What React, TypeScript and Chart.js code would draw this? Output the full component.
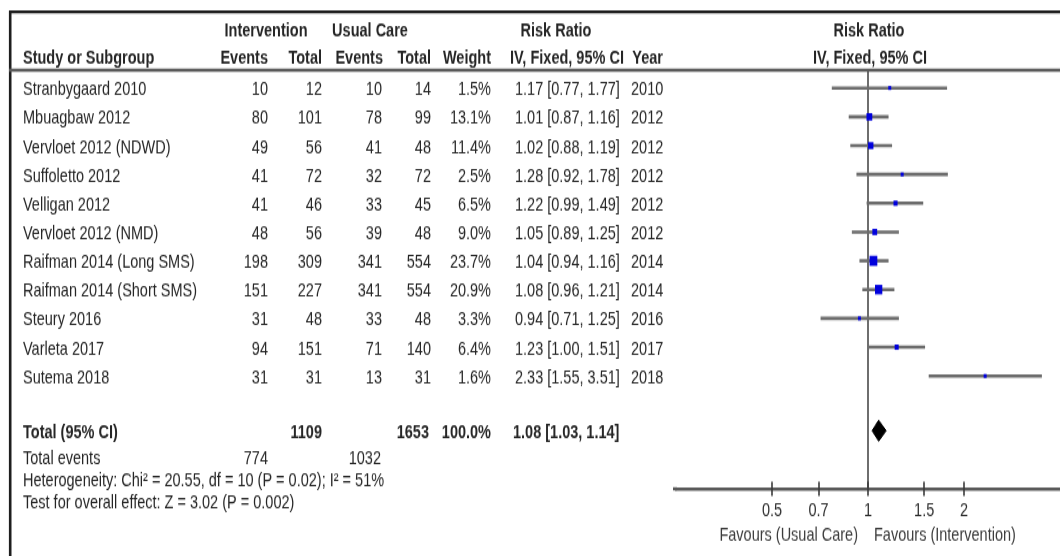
import React, { useEffect, useRef } from "react";
import { Chart, registerables } from "chart.js";

Chart.register(...registerables);

// ---------- data ----------
const studies = [
  "Stranbygaard 2010",
  "Mbuagbaw 2012",
  "Vervloet 2012 (NDWD)",
  "Suffoletto 2012",
  "Velligan 2012",
  "Vervloet 2012 (NMD)",
  "Raifman 2014 (Long SMS)",
  "Raifman 2014 (Short SMS)",
  "Steury 2016",
  "Varleta 2017",
  "Sutema 2018",
];
const intEvents = [10, 80, 49, 41, 41, 48, 198, 151, 31, 94, 31];
const intTotal = [12, 101, 56, 72, 46, 56, 309, 227, 48, 151, 31];
const ucEvents = [10, 78, 41, 32, 33, 39, 341, 341, 33, 71, 13];
const ucTotal = [14, 99, 48, 72, 45, 48, 554, 554, 48, 140, 31];
const weights = [1.5, 13.1, 11.4, 2.5, 6.5, 9.0, 23.7, 20.9, 3.3, 6.4, 1.6];
const riskRatio = [1.17, 1.01, 1.02, 1.28, 1.22, 1.05, 1.04, 1.08, 0.94, 1.23, 2.33];
const ciLow = [0.77, 0.87, 0.88, 0.92, 0.99, 0.89, 0.94, 0.96, 0.71, 1.0, 1.55];
const ciHigh = [1.77, 1.16, 1.19, 1.78, 1.49, 1.25, 1.16, 1.21, 1.25, 1.51, 3.51];
const years = [2010, 2012, 2012, 2012, 2012, 2012, 2014, 2014, 2016, 2017, 2018];

const totalIntN = 1109;
const totalUcN = 1653;
const totalWeight = 100.0;
const totalRR = 1.08;
const totalLow = 1.03;
const totalHigh = 1.14;
const totalIntEvents = 774;
const totalUcEvents = 1032;
const heterogeneityText = "Heterogeneity: Chi\u00B2 = 20.55, df = 10 (P = 0.02); I\u00B2 = 51%";
const overallEffectText = "Test for overall effect: Z = 3.02 (P = 0.002)";

const xTickValues = [0.5, 0.7, 1, 1.5, 2];
const favoursLeft = "Favours (Usual Care)";
const favoursRight = "Favours (Intervention)";

// ---------- layout constants ----------
const STRETCH = 1.3; // vertical stretch of the whole picture
const CW = 1060;
const CH = 428;
const ROW0 = 67.7; // pixel of row 0
const ROWH = 22.15; // pixels per row
const TOP = 54;
const BOTTOM = 376;
const TOTAL_SLOT = 11.9;
const TEXT_DY = 1.5;
const FONT = '"Liberation Sans", Arial, Helvetica, sans-serif';
const FS = 14.5;
const TEXT_COLOR = "#262626";

const fmt2 = (v: number) => v.toFixed(2);
const ciText = (r: number, l: number, h: number) => `${fmt2(r)} [${fmt2(l)}, ${fmt2(h)}]`;

const tablePlugin = {
  id: "forestTable",
  afterDraw(chart: any) {
    const ctx: CanvasRenderingContext2D = chart.ctx;
    const xs = chart.scales.x;
    const ys = chart.scales.y;
    const area = chart.chartArea;
    const rowY = (s: number) => ys.getPixelForValue(s) + TEXT_DY;

    const text = (
      s: string,
      px: number,
      py: number,
      align: CanvasTextAlign,
      bold = false,
      color = TEXT_COLOR
    ) => {
      ctx.font = `${bold ? "bold " : ""}${FS}px ${FONT}`;
      ctx.textAlign = align;
      ctx.textBaseline = "middle";
      ctx.fillStyle = color;
      ctx.fillText(s, px, py);
    };

    ctx.save();
    // frame
    ctx.strokeStyle = "#1e1e1e";
    ctx.lineWidth = 2.3;
    ctx.beginPath();
    ctx.moveTo(9, 9.2);
    ctx.lineTo(CW, 9.2);
    ctx.stroke();
    ctx.lineWidth = 2.6;
    ctx.beginPath();
    ctx.moveTo(10.2, 8.2);
    ctx.lineTo(10.2, CH);
    ctx.stroke();
    // header separator
    ctx.strokeStyle = "#5a5a5a";
    ctx.lineWidth = 2.4;
    ctx.beginPath();
    ctx.moveTo(9, area.top);
    ctx.lineTo(CW, area.top);
    ctx.stroke();

    // axis line: extend slightly beyond the plotting range on the left
    ctx.strokeStyle = "#5a5a5a";
    ctx.lineWidth = 2.4;
    ctx.beginPath();
    ctx.moveTo(673, area.bottom);
    ctx.lineTo(area.left + 1, area.bottom);
    ctx.stroke();

    // tick marks crossing the axis
    ctx.strokeStyle = "#3a3a3a";
    ctx.lineWidth = 1.6;
    const axisY = area.bottom;
    xTickValues.forEach((v) => {
      const px = Math.round(xs.getPixelForValue(v));
      ctx.beginPath();
      ctx.moveTo(px, axisY - 5.4);
      ctx.lineTo(px, axisY + 5.4);
      ctx.stroke();
    });

    // headers
    const h1 = rowY(-2.05);
    const h2 = rowY(-1.11);
    text("Intervention", 266, h1, "center", true);
    text("Usual Care", 370, h1, "center", true);
    text("Risk Ratio", 556, h1, "center", true);
    text("Risk Ratio", 869, h1, "center", true);
    text("Study or Subgroup", 23, h2, "left", true);
    text("Events", 268, h2, "right", true);
    text("Total", 322, h2, "right", true);
    text("Events", 383, h2, "right", true);
    text("Total", 431, h2, "right", true);
    text("Weight", 491, h2, "right", true);
    text("IV, Fixed, 95% CI", 510, h2, "left", true);
    text("Year", 663, h2, "right", true);
    text("IV, Fixed, 95% CI", 870, h2, "center", true);

    // study rows
    studies.forEach((name, i) => {
      const py = rowY(i);
      text(name, 23, py, "left");
      text(String(intEvents[i]), 268, py, "right");
      text(String(intTotal[i]), 322, py, "right");
      text(String(ucEvents[i]), 382, py, "right");
      text(String(ucTotal[i]), 431, py, "right");
      text(`${weights[i].toFixed(1)}%`, 491, py, "right");
      text(ciText(riskRatio[i], ciLow[i], ciHigh[i]), 515, py, "left");
      text(String(years[i]), 631, py, "left");
    });

    // totals
    const ty = rowY(TOTAL_SLOT);
    text("Total (95% CI)", 23, ty, "left", true);
    text(String(totalIntN), 322, ty, "right", true);
    text(String(totalUcN), 429, ty, "right", true);
    text(`${totalWeight.toFixed(1)}%`, 491, ty, "right", true);
    text(ciText(totalRR, totalLow, totalHigh), 513, ty, "left", true);

    const ey = rowY(12.8);
    text("Total events", 23, ey, "left");
    text(String(totalIntEvents), 268, ey, "right");
    text(String(totalUcEvents), 381, ey, "right");
    text(heterogeneityText, 23, rowY(13.6), "left");
    text(overallEffectText, 23, rowY(14.37), "left");

    // favours labels
    const x1 = xs.getPixelForValue(1);
    const fy = area.bottom + 36;
    text(favoursLeft, x1 - 10, fy, "right", false, "#3c3c3c");
    text(favoursRight, x1 + 6, fy, "left", false, "#3c3c3c");
    ctx.restore();
  },
};

export default function App() {
  const ref = useRef<HTMLCanvasElement | null>(null);

  useEffect(() => {
    if (!ref.current) return;
    const squareSide = weights.map((w) => Math.max(3, 1.6 * Math.sqrt(w)));

    const ciDatasets = studies.map((name, i) => ({
      type: "line" as const,
      label: `${name} CI`,
      data: [
        { x: ciLow[i], y: i },
        { x: ciHigh[i], y: i },
      ],
      borderColor: "#6c6c6c",
      borderWidth: 2.6,
      pointRadius: 0,
      fill: false,
      order: 3,
    }));

    const diamondHalf = 0.365;
    const diamond = {
      type: "line" as const,
      label: "Total",
      data: [
        { x: totalLow, y: TOTAL_SLOT },
        { x: totalRR, y: TOTAL_SLOT - diamondHalf },
        { x: totalHigh, y: TOTAL_SLOT },
        { x: totalRR, y: TOTAL_SLOT + diamondHalf },
        { x: totalLow, y: TOTAL_SLOT },
      ],
      borderColor: "#000",
      backgroundColor: "#000",
      borderWidth: 1,
      pointRadius: 0,
      fill: "shape",
      order: 1,
    };

    const squares = {
      type: "scatter" as const,
      label: "Risk ratio",
      data: riskRatio.map((v, i) => ({ x: v, y: i })),
      pointStyle: "rect",
      pointRadius: squareSide.map((s) => s / Math.SQRT2),
      backgroundColor: "#0000dc",
      borderWidth: 0,
      order: 0,
    };

    const chart = new Chart(ref.current, {
      type: "scatter",
      data: { datasets: [squares, diamond, ...ciDatasets] as any },
      options: {
        animation: false,
        responsive: false,
        devicePixelRatio: 1,
        events: [],
        layout: { autoPadding: false, padding: { left: 676, right: 0, top: TOP, bottom: 0 } },
        plugins: { legend: { display: false }, tooltip: { enabled: false } },
        scales: {
          x: {
            type: "logarithmic",
            min: 0.25,
            max: 4,
            afterFit: (s: any) => {
              s.height = CH - BOTTOM;
            },
            afterBuildTicks: (s: any) => {
              s.ticks = xTickValues.map((v) => ({ value: v }));
            },
            grid: {
              display: true,
              drawOnChartArea: true,
              drawTicks: false,
              color: (c: any) => (c.tick && c.tick.value === 1 ? "#6e6e6e" : "rgba(0,0,0,0)"),
              lineWidth: 2,
            },
            border: { display: true, color: "#5a5a5a", width: 2.4 },
            ticks: {
              autoSkip: false,
              maxRotation: 0,
              padding: 8,
              color: "#2e2e2e",
              font: { family: FONT, size: FS },
              callback: (v: any) => String(v),
            },
          },
          y: {
            type: "linear",
            display: false,
            reverse: true,
            min: (TOP - ROW0) / ROWH,
            max: (BOTTOM - ROW0) / ROWH,
          },
        },
      },
      plugins: [tablePlugin],
    } as any);
    return () => chart.destroy();
  }, []);

  return (
    <div
      style={{
        position: "fixed",
        left: 0,
        top: 0,
        width: CW,
        height: 556,
        overflow: "hidden",
        background: "#fff",
      }}
    >
      <canvas
        ref={ref}
        width={CW}
        height={CH}
        style={{
          display: "block",
          width: `${CW}px`,
          height: `${CH}px`,
          transform: `scaleY(${STRETCH})`,
          transformOrigin: "0 0",
        }}
      />
    </div>
  );
}
